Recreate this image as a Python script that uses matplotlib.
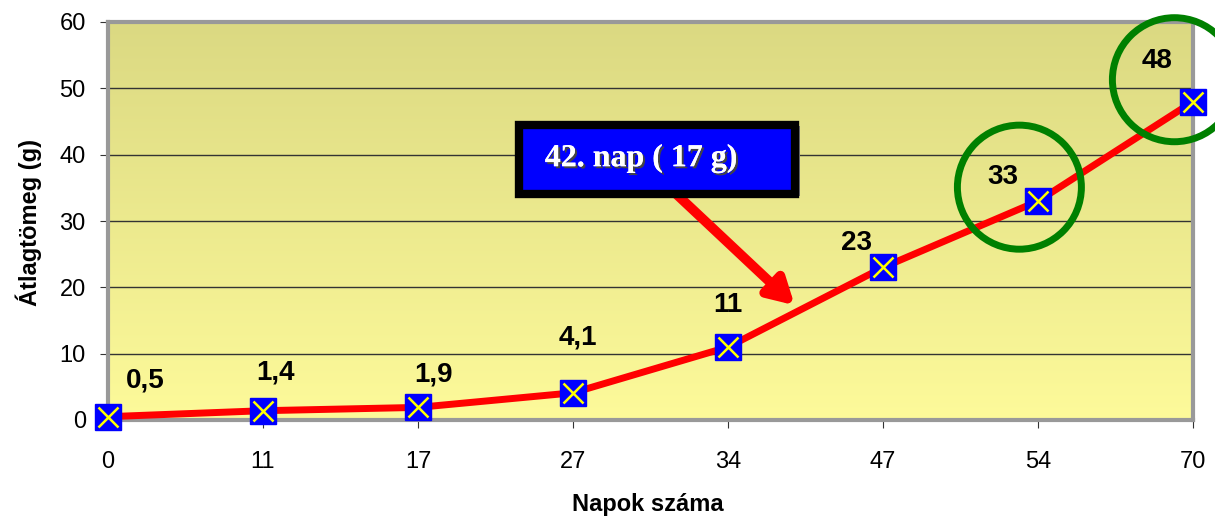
import numpy as np
import matplotlib
matplotlib.use("Agg")
from matplotlib import pyplot as plt
from matplotlib.patches import Ellipse, Rectangle
import matplotlib.patheffects as pe

# data
napok = ["0", "11", "17", "27", "34", "47", "54", "70"]
tomeg = [0.5, 1.4, 1.9, 4.1, 11, 23, 33, 48]
cimkek = ["0,5", "1,4", "1,9", "4,1", "11", "23", "33", "48"]

# label placement (category offset, y value)
lab_dx = [0.24, 0.08, 0.10, 0.03, 0.0, -0.17, -0.23, -0.23]
lab_y = [5.9, 7.1, 6.8, 12.5, 17.3, 26.7, 36.6, 54.1]

plt.rcParams['font.family'] = ['Liberation Sans', 'DejaVu Sans']

fig = plt.figure(figsize=(12.15, 5.19), dpi=100)
ax = fig.add_axes([108/1215, 1-420/519, (1193-108)/1215, (420-22)/519])

x = np.arange(len(napok))
ax.set_xlim(0, len(napok)-1)
ax.set_ylim(0, 60)

# gradient background
grad = np.linspace(0, 1, 256).reshape(-1, 1)
top = np.array([219, 217, 130]) / 255
bot = np.array([253, 250, 154]) / 255
img = top + (bot - top) * grad[:, :, None]
ax.imshow(img, extent=[0, 1, 0, 1], transform=ax.transAxes, aspect='auto', zorder=0)

for v in range(10, 60, 10):
    ax.axhline(v, color='#333333', lw=1, zorder=1)

ax.plot(x, tomeg, color='#ff0000', lw=5, zorder=3, solid_capstyle='round')
ax.plot(x, tomeg, ls='none', marker='s', ms=19, mfc='#0000ff', mec='#0000ff', zorder=4, clip_on=False)
ax.plot(x, tomeg, ls='none', marker='x', ms=15, mew=1.8, color='#ffff00', zorder=5, clip_on=False)

for i, t in enumerate(cimkek):
    ax.text(x[i] + lab_dx[i], lab_y[i], t, ha='center', va='center', fontsize=20,
            fontweight='bold', color='black', zorder=6)

# green circles
for cx, cy in [(5.88, 35.1), (6.88, 51.3)]:
    ax.add_patch(Ellipse((cx, cy), 0.8, 18.7, fill=False, ec='#008000', lw=5,
                         zorder=6, clip_on=False))

# callout
ax.annotate('', xy=(4.43, 17.3), xytext=(3.66, 34.2),
            arrowprops=dict(arrowstyle='-|>,head_length=1.5,head_width=0.85', color='#ff0000',
                            lw=7, shrinkA=0, shrinkB=0), zorder=7)
ax.add_patch(Rectangle((2.665, 33.7), 1.8, 10.6, fc='#777777', ec='none', zorder=7.5))
ax.add_patch(Rectangle((2.65, 34.0), 1.78, 10.5, fc='#0000ff', ec='black', lw=6,
                       joinstyle='miter', zorder=8))
ax.text(3.44, 39.4, '42. nap ( 17 g)', ha='center', va='center', fontsize=23,
        fontweight='bold', family=['Liberation Serif', 'DejaVu Serif'], color='white',
        zorder=9,
        path_effects=[pe.withSimplePatchShadow(offset=(1.5, -1.5), shadow_rgbFace='#444444', alpha=1), pe.Normal()])

ax.set_xticks(x)
ax.set_xticklabels(napok)
ax.set_yticks(range(0, 61, 10))
ax.tick_params(axis='both', labelsize=17, length=6, color='#333333')
ax.tick_params(axis='y', pad=10)
ax.tick_params(axis='x', pad=16)

for s in ax.spines.values():
    s.set_color('#999999')
    s.set_linewidth(3)

ax.set_ylabel('Átlagtömeg (g)', fontsize=17, fontweight='bold')
ax.set_xlabel('Napok száma', fontsize=17, fontweight='bold')
ax.yaxis.set_label_coords(-(108-42)/1085, (420-222)/398)
ax.xaxis.set_label_coords((648-108)/1085, -(493-420)/398)

fig.savefig('out.png', dpi=100)
